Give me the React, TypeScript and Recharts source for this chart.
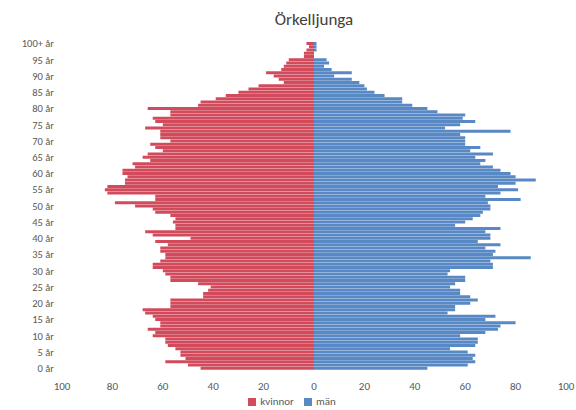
import React from 'react';
import { BarChart, Bar, XAxis, YAxis, Legend } from 'recharts';

// ages 0..100 (100 = 100+)
const ages = Array.from({ length: 101 }, (_, i) => i);

// women per age, read from 0 år upwards
const kvinnor = [
  45, 50, 59, 51, 53, 53, 55, 58, 59, 59,
  64, 63, 66, 61, 61, 63, 64, 67, 68, 57,
  57, 57, 44, 44, 42, 41, 46, 57, 57, 59,
  60, 64, 64, 61, 59, 59, 61, 61, 58, 63,
  49, 64, 67, 55, 55, 56, 55, 57, 63, 64,
  71, 79, 63, 63, 82, 83, 82, 75, 75, 74,
  76, 76, 71, 72, 65, 68, 66, 60, 63, 65,
  57, 61, 61, 61, 67, 60, 63, 64, 57, 57,
  66, 46, 45, 39, 35, 30, 26, 22, 12, 14,
  16, 19, 13, 12, 11, 10, 4, 4, 3, 2,
  3,
];

// men per age, read from 0 år upwards
const man = [
  45, 61, 64, 63, 64, 61, 54, 64, 65, 65,
  58, 68, 73, 74, 80, 68, 72, 53, 56, 56,
  62, 65, 62, 58, 58, 54, 56, 60, 60, 53,
  54, 71, 71, 70, 86, 71, 72, 68, 74, 65,
  70, 70, 68, 74, 56, 60, 63, 66, 67, 70,
  70, 69, 82, 68, 74, 81, 73, 80, 88, 80,
  78, 74, 71, 66, 68, 64, 71, 62, 66, 60,
  60, 60, 58, 78, 52, 58, 64, 59, 60, 49,
  45, 39, 35, 35, 28, 24, 21, 20, 18, 15,
  8, 15, 7, 4, 6, 5, 0, 0, 1, 1,
  1,
];

const xTicks = [-100, -80, -60, -40, -20, 0, 20, 40, 60, 80, 100];

const data = ages.map((a, i) => ({
  label: a === 100 ? '100+ år' : `${a} år`,
  kvinnor: -kvinnor[i],
  män: man[i],
}));

const font = 'Carlito, "Noto Sans", sans-serif';

const App = () => {
  return (
    <div style={{ position: 'absolute', left: 0, top: 0, width: 576, height: 410, background: '#fff' }}>
      <div
        style={{
          position: 'absolute',
          top: 9,
          left: 0,
          width: 628,
          textAlign: 'center',
          fontFamily: font,
          fontSize: 17,
          color: '#404040',
        }}
      >
        Örkelljunga
      </div>
      <BarChart
        width={576}
        height={410}
        data={data}
        layout="vertical"
        stackOffset="sign"
        barCategoryGap={0}
        margin={{ top: 42, right: 10, bottom: 0, left: 4 }}
      >
        <XAxis
          type="number"
          domain={[-100, 100]}
          ticks={xTicks}
          tickFormatter={(v) => String(Math.abs(v))}
          axisLine={false}
          tickLine={false}
          height={22}
          tick={{ fill: '#595959', fontSize: 11, fontFamily: font, dy: 4 }}
        />
        <YAxis
          type="category"
          dataKey="label"
          reversed
          interval={4}
          width={58}
          axisLine={false}
          tickLine={false}
          tick={{ fill: '#595959', fontSize: 10.5, fontFamily: font }}
        />
        <Legend
          verticalAlign="bottom"
          iconType="square"
          iconSize={8}
          height={18}
          formatter={(value) => <span style={{ color: '#595959' }}>{value}</span>}
          wrapperStyle={{ fontSize: 11, fontFamily: font, left: 16, bottom: -3 }}
        />
        <Bar dataKey="kvinnor" stackId="a" fill="#d24b5c" isAnimationActive={false} />
        <Bar dataKey="män" stackId="a" fill="#5889c4" isAnimationActive={false} />
      </BarChart>
    </div>
  );
};

export default App;
